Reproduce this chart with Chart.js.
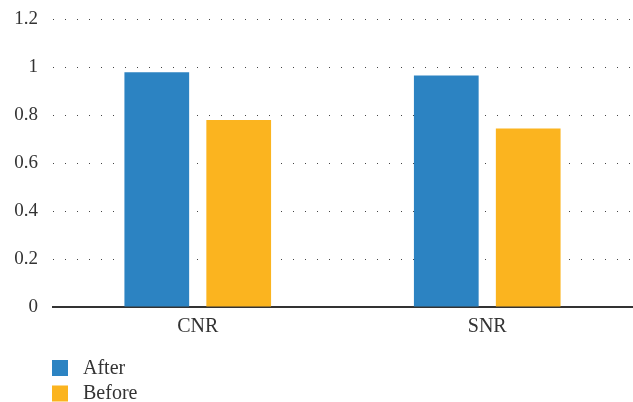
<!DOCTYPE html>
<html>
<head>
<meta charset="utf-8">
<script src="https://cdn.jsdelivr.net/npm/chart.js@4/dist/chart.umd.min.js"></script>
<style>
  html, body { margin: 0; padding: 0; background: #fff; }
  #wrap { width: 633px; height: 402px; position: relative; }
</style>
</head>
<body>
<div id="wrap"><canvas id="c" width="633" height="402"></canvas></div>
<script>
// Metrics and their values for each acquisition
const categories = ['CNR', 'SNR'];
const afterValues = [0.978, 0.965];
const beforeValues = [0.779, 0.744];
const seriesNames = ['After', 'Before'];
const seriesColors = ['#2C83C2', '#FBB41F'];

const FONT = "'Liberation Serif', 'Times New Roman', serif";

// Stacked square legend in the lower-left corner
const stackedLegend = {
  id: 'stackedLegend',
  afterDraw(chart) {
    const ctx = chart.ctx;
    ctx.save();
    ctx.font = '20px ' + FONT;
    ctx.textBaseline = 'middle';
    ctx.textAlign = 'left';
    chart.data.datasets.forEach((ds, i) => {
      const y = 360 + i * 25.5;
      ctx.fillStyle = ds.backgroundColor;
      ctx.fillRect(52, y, 16, 16);
      ctx.fillStyle = '#333';
      ctx.fillText(ds.label, 83, y + 8.5);
    });
    ctx.restore();
  }
};

new Chart(document.getElementById('c'), {
  type: 'bar',
  data: {
    labels: categories,
    datasets: [
      { label: seriesNames[0], data: afterValues, backgroundColor: seriesColors[0] },
      { label: seriesNames[1], data: beforeValues, backgroundColor: seriesColors[1] }
    ]
  },
  options: {
    responsive: false,
    animation: false,
    devicePixelRatio: 1,
    layout: { padding: { top: 19, right: 1, bottom: 0, left: 0 } },
    datasets: { bar: { categoryPercentage: 0.566, barPercentage: 0.79 } },
    plugins: { legend: { display: false }, tooltip: { enabled: false } },
    scales: {
      x: {
        grid: { display: false, drawTicks: false },
        border: { display: true, color: '#333', width: 2 },
        ticks: { color: '#333', padding: 8, font: { family: FONT, size: 20 } },
        afterFit(s) { s.height = 95; }
      },
      y: {
        min: 0, max: 1.2,
        ticks: {
          stepSize: 0.2, color: '#333', padding: 15,
          font: { family: FONT, size: 19 },
          callback: v => Math.round(v * 10) / 10
        },
        grid: {
          drawTicks: false,
          color: c => c.tick && c.tick.value === 0 ? 'rgba(0,0,0,0)' : '#444',
          lineWidth: 1
        },
        border: { display: false, dash: [1, 11] },
        afterFit(s) { s.width = 53; s.paddingTop = 0; s.paddingBottom = 0; }
      }
    }
  },
  plugins: [stackedLegend]
});
</script>
</body>
</html>
